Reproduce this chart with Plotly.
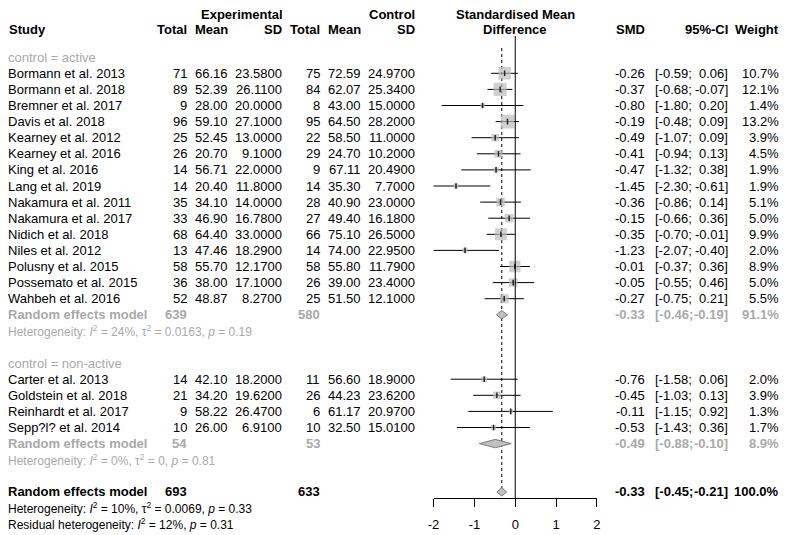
import math
import plotly.graph_objects as go

# ---- data -------------------------------------------------------------
group_names = ["control = active", "control = non-active"]

study = ["Bormann et al. 2013", "Bormann et al. 2018", "Bremner et al. 2017",
         "Davis et al. 2018", "Kearney et al. 2012", "Kearney et al. 2016",
         "King et al. 2016", "Lang et al. 2019", "Nakamura et al. 2011",
         "Nakamura et al. 2017", "Nidich et al. 2018", "Niles et al. 2012",
         "Polusny et al. 2015", "Possemato et al. 2015", "Wahbeh et al. 2016",
         "Carter et al. 2013", "Goldstein et al. 2018", "Reinhardt et al. 2017",
         "Sepp?l? et al. 2014"]
group = [0] * 15 + [1] * 4
exp_n = [71, 89, 9, 96, 25, 26, 14, 14, 35, 33, 68, 13, 58, 36, 52, 14, 21, 9, 10]
exp_mean = [66.16, 52.39, 28.00, 59.10, 52.45, 20.70, 56.71, 20.40, 34.10, 46.90,
            64.40, 47.46, 55.70, 38.00, 48.87, 42.10, 34.20, 58.22, 26.00]
exp_sd = [23.58, 26.11, 20.00, 27.10, 13.00, 9.10, 22.00, 11.80, 14.00, 16.78,
          33.00, 18.29, 12.17, 17.10, 8.27, 18.20, 19.62, 26.47, 6.91]
ctl_n = [75, 84, 8, 95, 22, 29, 9, 14, 28, 27, 66, 14, 58, 26, 25, 11, 26, 6, 10]
ctl_mean = [72.59, 62.07, 43.00, 64.50, 58.50, 24.70, 67.11, 35.30, 40.90, 49.40,
            75.10, 74.00, 55.80, 39.00, 51.50, 56.60, 44.23, 61.17, 32.50]
ctl_sd = [24.97, 25.34, 15.00, 28.20, 11.00, 10.20, 20.49, 7.70, 23.00, 16.18,
          26.50, 22.95, 11.79, 23.40, 12.10, 18.90, 23.62, 20.97, 15.01]
smd = [-0.26, -0.37, -0.80, -0.19, -0.49, -0.41, -0.47, -1.45, -0.36, -0.15,
       -0.35, -1.23, -0.01, -0.05, -0.27, -0.76, -0.45, -0.11, -0.53]
ci_low = [-0.59, -0.68, -1.80, -0.48, -1.07, -0.94, -1.32, -2.30, -0.86, -0.66,
          -0.70, -2.07, -0.37, -0.55, -0.75, -1.58, -1.03, -1.15, -1.43]
ci_high = [0.06, -0.07, 0.20, 0.09, 0.09, 0.13, 0.38, -0.61, 0.14, 0.36,
           -0.01, -0.40, 0.36, 0.46, 0.21, 0.06, 0.13, 0.92, 0.36]
weight = [10.7, 12.1, 1.4, 13.2, 3.9, 4.5, 1.9, 1.9, 5.1, 5.0,
          9.9, 2.0, 8.9, 5.0, 5.5, 2.0, 3.9, 1.3, 1.7]

# subgroup random effects summaries
sub_exp_n = [639, 54]
sub_ctl_n = [580, 53]
sub_smd = [-0.33, -0.49]
sub_low = [-0.46, -0.88]
sub_high = [-0.19, -0.10]
sub_weight = [91.1, 8.9]
sub_i2 = ["24%", "0%"]
sub_tau2 = ["0.0163", "0"]
sub_p = ["0.19", "0.81"]

# overall random effects model
all_exp_n, all_ctl_n = 693, 633
all_smd, all_low, all_high, all_weight = -0.33, -0.45, -0.21, 100.0
all_i2, all_tau2, all_p = "10%", "0.0069", "0.33"
resid_i2, resid_p = "12%", "0.31"

# ---- layout helpers ---------------------------------------------------
PAGE_W, PAGE_H = 789, 535
BODY = 8                        # default page margin around the plot div
W, H = PAGE_W - BODY, PAGE_H - BODY
FONT = "Liberation Sans, Arial, sans-serif"
GREY = "#a9a9a9"
ROW_H = 16.1     # pixels per text row
Y0 = 25          # page y of the first header row of the table grid
AXIS_PX = 498    # page y of the x axis line
X_LEFT_PX, X_RIGHT_PX = 433, 598.5


def row_of(py):
    return (py - Y0) / ROW_H


def fx(px):
    # page x -> paper fraction
    return (px - BODY) / W


annotations = []


def txt(xpx, row, s, anchor="right", color="black", bold=False, size=13):
    if bold:
        s = "<b>" + s + "</b>"
    annotations.append(dict(
        x=fx(xpx), xref="paper", y=row, yref="y", text=s, showarrow=False,
        xanchor=anchor, yanchor="middle", align=anchor, borderpad=0,
        borderwidth=0, font=dict(family=FONT, size=size, color=color)))


# column right edges (page px)
C_TOT1, C_MEAN1, C_SD1 = 183, 225, 279
C_TOT2, C_MEAN2, C_SD2 = 318, 360, 414.5
C_SMD, C_CI_L, C_CI_R, C_W = 647, 657, 731, 783
X_ZERO_PX = 515.7
C_LEFT = 2
TOP_ROW = row_of(14)
HEAD_ROW = row_of(29)

# headers
txt(C_SD1 + 1, TOP_ROW, "Experimental", bold=True)
txt(C_SD2, TOP_ROW, "Control", bold=True)
txt(X_ZERO_PX, TOP_ROW, "Standardised Mean", anchor="center", bold=True)
txt(C_LEFT + 1, HEAD_ROW, "Study", anchor="left", bold=True)
for xpx, s in [(C_TOT1, "Total"), (C_MEAN1, "Mean"), (C_SD1, "SD"),
               (C_TOT2, "Total"), (C_MEAN2, "Mean"), (C_SD2, "SD"),
               (C_SMD, "SMD"), (C_CI_R, "95%-CI"), (C_W, "Weight")]:
    txt(xpx, HEAD_ROW, s, bold=True)
txt(X_ZERO_PX, HEAD_ROW, "Difference", anchor="center", bold=True)


def result_cols(row, est, lo, hi, w, color="black", bold=False):
    txt(C_SMD, row, f"{est:.2f}", color=color, bold=bold)
    txt(C_CI_L, row, f"[{lo:.2f};", anchor="left", color=color, bold=bold)
    txt(C_CI_R, row, f"{hi:.2f}]", color=color, bold=bold)
    txt(C_W, row, f"{w:.1f}%", color=color, bold=bold)


def het_text(i2, tau2=None, p=None, prefix="Heterogeneity"):
    s = f"{prefix}: <i>I</i><sup>2</sup> = {i2}"
    if tau2 is not None:
        s += f", τ<sup>2</sup> = {tau2}"
    s += f", <i>p</i> = {p}"
    return s


study_rows = []
diamonds = []  # (row, est, lo, hi)
row = 2
for g, gname in enumerate(group_names):
    txt(C_LEFT, row, gname, anchor="left", color=GREY)
    row += 1
    for i in range(len(study)):
        if group[i] != g:
            continue
        study_rows.append(row)
        txt(C_LEFT, row, study[i], anchor="left")
        txt(C_TOT1, row, str(exp_n[i]))
        txt(C_MEAN1, row, f"{exp_mean[i]:.2f}")
        txt(C_SD1, row, f"{exp_sd[i]:.4f}")
        txt(C_TOT2, row, str(ctl_n[i]))
        txt(C_MEAN2, row, f"{ctl_mean[i]:.2f}")
        txt(C_SD2, row, f"{ctl_sd[i]:.4f}")
        result_cols(row, smd[i], ci_low[i], ci_high[i], weight[i])
        row += 1
    txt(C_LEFT, row, "Random effects model", anchor="left", color=GREY, bold=True)
    txt(C_TOT1, row, str(sub_exp_n[g]), color=GREY, bold=True)
    txt(C_TOT2, row, str(sub_ctl_n[g]), color=GREY, bold=True)
    result_cols(row, sub_smd[g], sub_low[g], sub_high[g], sub_weight[g],
                color=GREY, bold=True)
    diamonds.append((row, sub_smd[g], sub_low[g], sub_high[g]))
    row += 1
    txt(C_LEFT, row, het_text(sub_i2[g], sub_tau2[g], sub_p[g]), anchor="left",
        color=GREY, size=12)
    row += 2

overall_row = row
txt(C_LEFT, row, "Random effects model", anchor="left", bold=True)
txt(C_TOT1, row, str(all_exp_n), bold=True)
txt(C_TOT2, row, str(all_ctl_n), bold=True)
result_cols(row, all_smd, all_low, all_high, all_weight, bold=True)
diamonds.append((row, all_smd, all_low, all_high))
txt(C_LEFT, row + 1, het_text(all_i2, all_tau2, all_p), anchor="left", size=12)
txt(C_LEFT, row + 2, het_text(resid_i2, None, resid_p,
                              prefix="Residual heterogeneity"),
    anchor="left", size=12)

# ---- marks -------------------------------------------------------------
fig = go.Figure()

# confidence interval lines
ci_x, ci_y = [], []
for r, lo, hi in zip(study_rows, ci_low, ci_high):
    ci_x += [lo, hi, None]
    ci_y += [r, r, None]
fig.add_trace(go.Scatter(x=ci_x, y=ci_y, mode="lines",
                         line=dict(color="black", width=1), hoverinfo="skip"))

# weighted squares
fig.add_trace(go.Scatter(
    x=smd, y=study_rows, mode="markers",
    marker=dict(symbol="square", color="#bcbcbc",
                size=[3.8 * math.sqrt(w) for w in weight],
                line=dict(width=0)),
    hoverinfo="skip"))
fig.add_trace(go.Scatter(
    x=smd, y=study_rows, mode="markers",
    marker=dict(symbol="line-ns", size=4, line=dict(color="#222", width=1.5)),
    hoverinfo="skip"))

# summary diamonds
for r, est, lo, hi in diamonds:
    fig.add_trace(go.Scatter(
        x=[lo, est, hi, est, lo], y=[r, r - 0.26, r, r + 0.26, r],
        mode="lines", fill="toself", fillcolor="#c0c0c0",
        line=dict(color="#7a7a7a", width=1), hoverinfo="skip"))

# reference lines: no effect and overall estimate
fig.add_shape(type="line", xref="x", yref="y", x0=0, x1=0,
              y0=row_of(36), y1=row_of(AXIS_PX),
              line=dict(color="black", width=1))
fig.add_shape(type="line", xref="x", yref="y", x0=all_smd, x1=all_smd,
              y0=row_of(48), y1=overall_row,
              line=dict(color="black", width=1, dash="dot"), layer="below")

fig.update_layout(
    width=W, height=H,
    margin=dict(l=0, r=0, t=0, b=0),
    paper_bgcolor="white", plot_bgcolor="white",
    showlegend=False,
    annotations=annotations,
    font=dict(family=FONT, size=13, color="black"),
    xaxis=dict(domain=[fx(X_LEFT_PX), fx(X_RIGHT_PX)], range=[-2, 2],
               tickvals=[-2, -1, 0, 1, 2], ticktext=["-2", "-1", "0", "1", "2"],
               showgrid=False, zeroline=False, showline=True,
               linecolor="black", linewidth=1, ticks="outside", ticklen=8,
               tickcolor="black", tickwidth=1, ticklabelstandoff=6,
               tickfont=dict(family=FONT, size=13),
               anchor="free", position=(PAGE_H - AXIS_PX) / H),
    yaxis=dict(domain=[0, 1], range=[row_of(PAGE_H), row_of(BODY)],
               visible=False),
)

fig.write_html("out.html")
